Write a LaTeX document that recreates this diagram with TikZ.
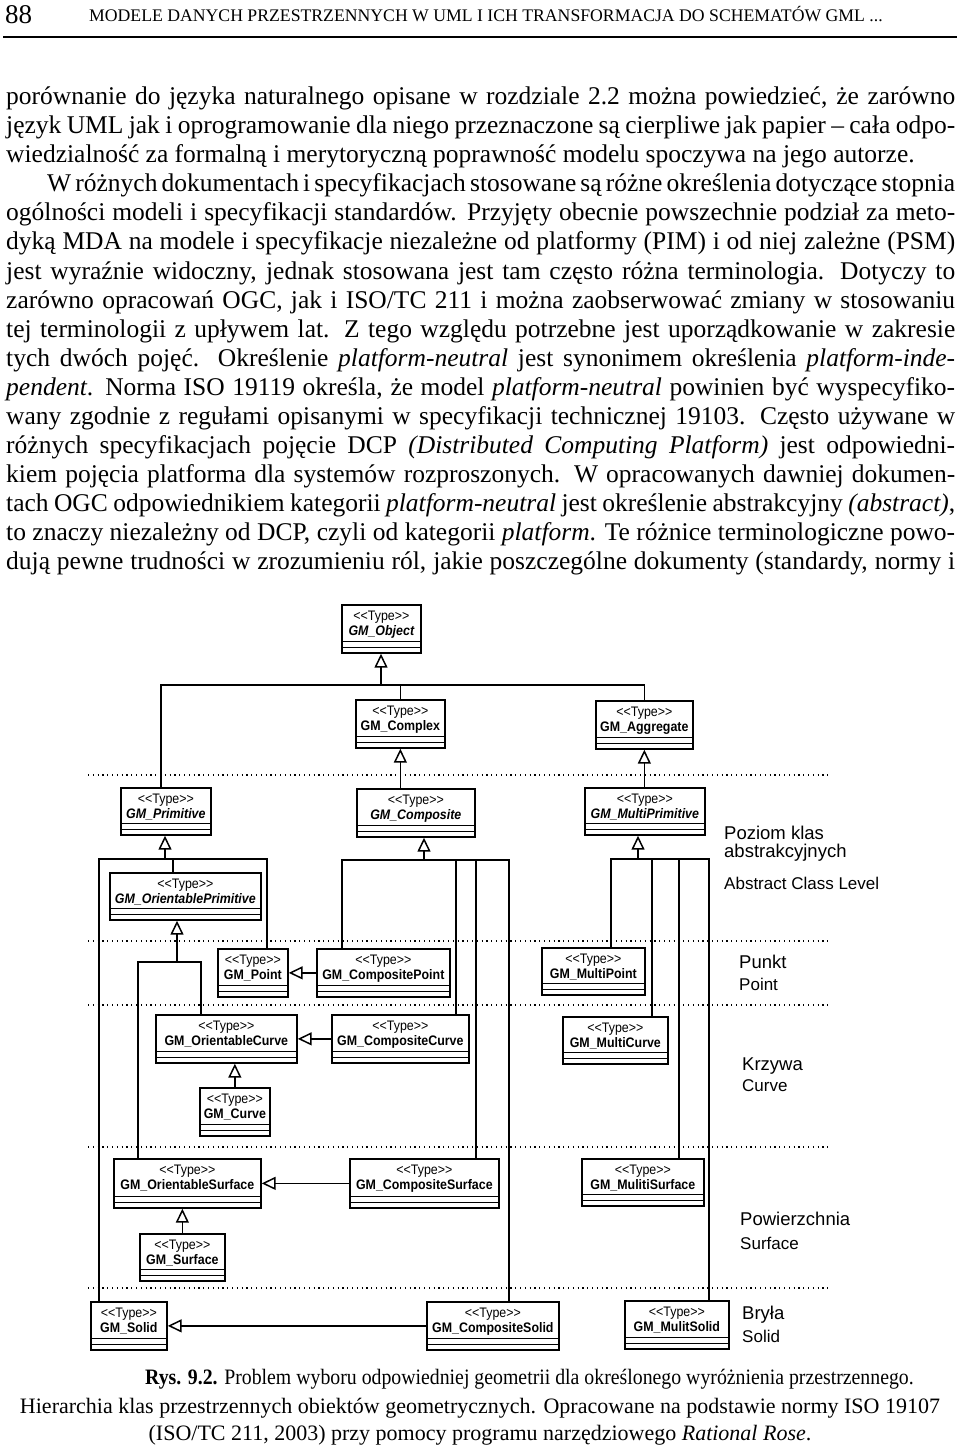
\documentclass[tikz,border=0pt]{standalone}
\usepackage{fontspec}
\setmainfont{Liberation Serif}
\newfontfamily\umlf{Liberation Sans}[FakeStretch=0.9]
\newfontfamily\labf{Liberation Sans}
\usetikzlibrary{arrows.meta}

\newcommand\clstxt[3]{\raisebox{0pt}[16pt][\dimexpr#2pt-16pt\relax]{\vtop{\hsize=#1pt\parindent=0pt\parskip=0pt\leftskip=0pt plus 1fil\rightskip=0pt plus 1fil\parfillskip=0pt\umlf\fontsize{13.8}{14.5}\selectfont <\kern0pt<Type>\kern0pt>\par\fontsize{13.8}{14.5}\selectfont\bfseries #3\par}}}
\newcommand\cls[6]{%
  \node[clsbox] (#1) at (#2,#3) {\clstxt{#4}{#5}{#6}};
  \draw[cmp] ([yshift=12pt]#1.south west) -- ([yshift=12pt]#1.south east);
  \draw[cmp] ([yshift=6pt]#1.south west) -- ([yshift=6pt]#1.south east);}
\newcommand\jl[1]{\hbox to 949pt{\spaceskip=.25em plus .6em minus .13em\relax #1}}

\tikzset{
  clsbox/.style={draw, line width=1.7pt, inner sep=0pt, anchor=north west, fill=white},
  cmp/.style={line width=1.3pt},
  gen/.style={line width=1.5pt, -{Triangle[open, length=14pt, width=13pt]}},
  conn/.style={line width=1.5pt},
  lvl/.style={line width=1.2pt, dash pattern=on 1.2pt off 3.6pt},
  body/.style={anchor=base west, inner sep=0pt, font=\fontsize{25.5}{29}\selectfont},
  capt/.style={anchor=base, inner sep=0pt, font=\fontsize{22}{26}\selectfont},
  lab/.style={anchor=base west, inner sep=0pt, font=\labf\fontsize{18.5}{20}\selectfont},
  labe/.style={anchor=base west, inner sep=0pt, font=\labf\fontsize{17}{19}\selectfont},
}

\begin{document}
\begin{tikzpicture}[x=1pt,y=-1pt]
\useasboundingbox (0,0) rectangle (960,1447);
\fill[white] (0,0) rectangle (960,1447);

% header
\node[anchor=base west, inner sep=0pt, font=\fontsize{27}{28}\selectfont] (pg) at (5,24) {88};
\node[anchor=base west, inner sep=0pt, font=\fontsize{17.7}{20}\selectfont] (hd) at (89,22) {MODELE DANYCH PRZESTRZENNYCH W UML I ICH TRANSFORMACJA DO SCHEMATÓW GML ...};
\draw[line width=2.6pt] (3,37) -- (957,37);

% body text
\node[body] (t1) at (6,105) {\jl{porównanie do języka naturalnego opisane w rozdziale 2.2 można powiedzieć, że zarówno}};
\node[body] (t2) at (6,134) {\jl{język UML jak i oprogramowanie dla niego przeznaczone są cierpliwe jak papier – cała odpo-}};
\node[body] (t3) at (6,163) {wiedzialność za formalną i merytoryczną poprawność modelu spoczywa na jego autorze.};
\node[body] (t4) at (6,192) {\jl{\kern41pt W różnych dokumentach i specyfikacjach stosowane są różne określenia dotyczące stopnia}};
\node[body] (t5) at (6,221) {\jl{ogólności modeli i specyfikacji standardów. Przyjęty obecnie powszechnie podział za meto-}};
\node[body] (t6) at (6,250) {\jl{dyką MDA na modele i specyfikacje niezależne od platformy (PIM) i od niej zależne (PSM)}};
\node[body] (t7) at (6,279) {\jl{jest wyraźnie widoczny, jednak stosowana jest tam często różna terminologia. Dotyczy to}};
\node[body] (t8) at (6,308) {\jl{zarówno opracowań OGC, jak i ISO/TC 211 i można zaobserwować zmiany w stosowaniu}};
\node[body] (t9) at (6,337) {\jl{tej terminologii z upływem lat. Z tego względu potrzebne jest uporządkowanie w zakresie}};
\node[body] (t10) at (6,366) {\jl{tych dwóch pojęć. Określenie \textit{platform-neutral} jest synonimem określenia \textit{platform-inde-}}};
\node[body] (t11) at (6,395) {\jl{\textit{pendent}. Norma ISO 19119 określa, że model \textit{platform-neutral} powinien być wyspecyfiko-}};
\node[body] (t12) at (6,424) {\jl{wany zgodnie z regułami opisanymi w specyfikacji technicznej 19103. Często używane w}};
\node[body] (t13) at (6,453) {\jl{różnych specyfikacjach pojęcie DCP \textit{(Distributed Computing Platform)} jest odpowiedni-}};
\node[body] (t14) at (6,482) {\jl{kiem pojęcia platforma dla systemów rozproszonych. W opracowanych dawniej dokumen-}};
\node[body] (t15) at (6,511) {\jl{tach OGC odpowiednikiem kategorii \textit{platform-neutral} jest określenie abstrakcyjny \textit{(abstract)},}};
\node[body] (t16) at (6,540) {\jl{to znaczy niezależny od DCP, czyli od kategorii \textit{platform}. Te różnice terminologiczne powo-}};
\node[body] (t17) at (6,569) {\jl{dują pewne trudności w zrozumieniu ról, jakie poszczególne dokumenty (standardy, normy i}};

% level separators
\foreach \yy in {775,941,1005,1147,1288} \draw[lvl] (88,\yy) -- (832,\yy);

% classes
\cls{obj}{341}{604}{79}{48}{\itshape GM\_Object}
\cls{cplx}{355}{699}{89}{48}{GM\_Complex}
\cls{aggr}{595}{700}{97}{48}{GM\_Aggregate}
\cls{prim}{120}{787}{90}{47}{\itshape GM\_Primitive}
\cls{comp}{356}{788}{118}{48}{\itshape GM\_Composite}
\cls{mprim}{584}{787}{120}{47}{\itshape GM\_MultiPrimitive}
\cls{oprim}{109}{872}{151}{47}{\itshape GM\_OrientablePrimitive}
\cls{pt}{217}{948}{70}{48}{GM\_Point}
\cls{cpt}{316}{948}{133}{48}{GM\_CompositePoint}
\cls{mpt}{541}{947}{103}{47}{GM\_MultiPoint}
\cls{ocurve}{155}{1014}{141}{48}{GM\_OrientableCurve}
\cls{ccurve}{331}{1014}{137}{48}{GM\_CompositeCurve}
\cls{mcurve}{562}{1016}{105}{47}{GM\_MultiCurve}
\cls{curve}{199}{1087}{70}{48}{GM\_Curve}
\cls{osurf}{113}{1158}{147}{49}{GM\_OrientableSurface}
\cls{csurf}{349}{1158}{149}{49}{GM\_CompositeSurface}
\cls{msurf}{581}{1158}{122}{47}{GM\_MulitiSurface}
\cls{surf}{139}{1233}{85}{47}{GM\_Surface}
\cls{solid}{90}{1301}{76}{48}{GM\_Solid}
\cls{csolid}{426}{1301}{132}{48}{GM\_CompositeSolid}
\cls{msolid}{624}{1300}{104}{48}{GM\_MulitSolid}

% junctions
\coordinate (jo) at (381,685);
\coordinate (jp) at (165,859);
\coordinate (jop) at (177,962);
\coordinate (jc) at (424,860);
\coordinate (jm) at (638,859);

% GM_Object tree
\draw[gen] (jo) -- (jo |- obj.south);
\draw[conn] (jo) -| ([xshift=-5pt]prim.north);
\draw[conn] (jo) -| (cplx.north);
\draw[conn] (jo) -| (aggr.north);
% Complex, Aggregate
\draw[gen] (comp.north -| cplx.south) -- (cplx.south);
\draw[gen] (mprim.north -| aggr.south) -- (aggr.south);
% Primitive tree
\draw[gen] (jp) -- (jp |- prim.south);
\draw[conn] (jp) -| ([xshift=-30pt]solid.north);
\draw[conn] (jp) -| ([xshift=-12.5pt]oprim.north);
\draw[conn] (jp) -| ([xshift=14pt]pt.north);
% OrientablePrimitive tree
\draw[gen] (jop) -- (jop |- oprim.south);
\draw[conn] (jop) -| ([xshift=-49.5pt]osurf.north);
\draw[conn] (jop) -| ([xshift=-25.5pt]ocurve.north);
% Composite tree
\draw[gen] (jc) -- (jc |- comp.south);
\draw[conn] (jc) -| ([xshift=-41.5pt]cpt.north);
\draw[conn] (jc) -| ([xshift=55.5pt]ccurve.north);
\draw[conn] (jc) -| ([xshift=51.5pt]csurf.north);
\draw[conn] (jc) -| ([xshift=16pt]csolid.north);
% MultiPrimitive tree
\draw[gen] (jm) -- (jm |- mprim.south);
\draw[conn] (jm) -| ([xshift=17.5pt]mpt.north);
\draw[conn] (jm) -| ([xshift=36.5pt]mcurve.north);
\draw[conn] (jm) -| ([xshift=36pt]msurf.north);
\draw[conn] (jm) -| ([xshift=32pt]msolid.north);
% horizontal generalisations
\draw[gen] (cpt.west) -- (cpt.west -| pt.east);
\draw[gen] (ccurve.west) -- (ccurve.west -| ocurve.east);
\draw[gen] (csurf.west) -- (csurf.west -| osurf.east);
\draw[gen] (csolid.west) -- (csolid.west -| solid.east);
% vertical single
\draw[gen] (curve.north) -- (curve.north |- ocurve.south);
\draw[gen] (surf.north) -- (surf.north |- osurf.south);

% level labels
\node[lab] (l1a) at (724,839) {Poziom klas};
\node[lab] (l1b) at (724,857) {abstrakcyjnych};
\node[labe] (l1c) at (724,889) {Abstract Class Level};
\node[lab] (l2a) at (739,968) {Punkt};
\node[labe] (l2b) at (739,990) {Point};
\node[lab] (l3a) at (742,1070) {Krzywa};
\node[labe] (l3b) at (742,1091) {Curve};
\node[lab] (l4a) at (740,1225) {Powierzchnia};
\node[labe] (l4b) at (740,1249) {Surface};
\node[lab] (l5a) at (742,1319) {Bryła};
\node[labe] (l5b) at (742,1342) {Solid};

% caption
\node[capt, anchor=base west] (c1) at (145,1384) {\scalebox{0.9}[1]{\textbf{Rys. 9.2.} Problem wyboru odpowiedniej geometrii dla określonego wyróżnienia przestrzennego.}};
\node[capt] (c2) at (480,1413) {Hierarchia klas przestrzennych obiektów geometrycznych. Opracowane na podstawie normy ISO 19107};
\node[capt] (c3) at (480,1440) {(ISO/TC 211, 2003) przy pomocy programu narzędziowego \textit{Rational Rose}.};
\end{tikzpicture}
\end{document}
